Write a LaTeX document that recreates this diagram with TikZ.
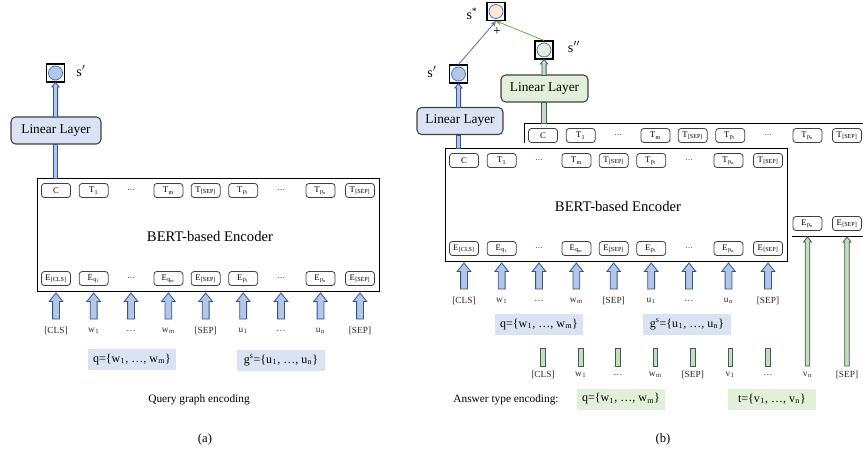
\documentclass[tikz,border=0pt]{standalone}
\usepackage{fontspec}
\setmainfont{Liberation Serif}
\usetikzlibrary{arrows.meta}
\definecolor{lblue}{HTML}{DAE3F3}
\definecolor{mblue}{HTML}{B4C7E7}
\definecolor{dblue}{HTML}{2F5597}
\definecolor{ablue}{HTML}{4472C4}
\definecolor{lgreen}{HTML}{E2F0D9}
\definecolor{mgreen}{HTML}{C5E0B4}
\definecolor{agreen}{HTML}{70AD47}
\definecolor{peach}{HTML}{FBE5D6}
\definecolor{gborder}{HTML}{44546A}
\newcommand\blkarrow[3]{%
  \draw[blk] (#1,#2) -- (#1+6.8,#2+8.5) -- (#1+3.4,#2+8.5) -- (#1+3.4,#3) -- (#1-3.4,#3) -- (#1-3.4,#2+8.5) -- (#1-6.8,#2+8.5) -- cycle;}
\newcommand\narrowup[4]{%
  \draw[#4] (#1,#2) -- (#1+3.6,#2+4.5) -- (#1+2.1,#2+4.5) -- (#1+2.1,#3) -- (#1-2.1,#3) -- (#1-2.1,#2+4.5) -- (#1-3.6,#2+4.5) -- cycle;}
\newcommand\barup[4]{%
  \draw[#4] (#1-2.3,#2) rectangle (#1+2.3,#3);}
\newcommand\sbx[1]{\textsubscript{\kern0.3pt#1}}
\newcommand\bertenc[1]{%
  \node[encbox] (#1box) at (208,234.5) {};
  \node[bigtxt] (#1lbl) at (210,236) {BERT-based Encoder};
  \node[tok] (#1T0) at (56,190.5) {C};
  \node[tok] (#1T1) at (93.7,190.5) {T\sbx{1}};
  \node[tokdots] (#1T2) at (131,190.5) {\dots};
  \node[tok] (#1T3) at (168.4,190.5) {T\sbx{m}};
  \node[tok] (#1T4) at (205.7,190.5) {T\sbx{[SEP]}};
  \node[tok] (#1T5) at (243.2,190.5) {T\sbx{p\textsubscript{1}}};
  \node[tokdots] (#1T6) at (281,190.5) {\dots};
  \node[tok] (#1T7) at (320.5,190.5) {T\sbx{p\textsubscript{n}}};
  \node[tok] (#1T8) at (360,190.5) {T\sbx{[SEP]}};
  \node[tok] (#1E0) at (56,278.5) {E\sbx{[CLS]}};
  \node[tok] (#1E1) at (93.7,278.5) {E\sbx{q\textsubscript{1}}};
  \node[tokdots] (#1E2) at (131,278.5) {\dots};
  \node[tok] (#1E3) at (168.4,278.5) {E\sbx{q\textsubscript{m}}};
  \node[tok] (#1E4) at (205.7,278.5) {E\sbx{[SEP]}};
  \node[tok] (#1E5) at (243.2,278.5) {E\sbx{p\textsubscript{1}}};
  \node[tokdots] (#1E6) at (281,278.5) {\dots};
  \node[tok] (#1E7) at (320.5,278.5) {E\sbx{p\textsubscript{n}}};
  \node[tok] (#1E8) at (360,278.5) {E\sbx{[SEP]}};
}
\newcommand\inputrow[1]{%
  \foreach \xx in {56,93.7,131,168.4,205.7,243.2,281,320.5,360} {\blkarrow{\xx}{293}{319}}
  \node[lab] (#1l0) at (56,331) {[CLS]};
  \node[lab] (#1l1) at (93.7,331) {w\sbx{1}};
  \node[lab] (#1l2) at (131,331) {\dots};
  \node[lab] (#1l3) at (168.4,331) {w\sbx{m}};
  \node[lab] (#1l4) at (205.7,331) {[SEP]};
  \node[lab] (#1l5) at (243.2,331) {u\sbx{1}};
  \node[lab] (#1l6) at (281,331) {\dots};
  \node[lab] (#1l7) at (320.5,331) {u\sbx{n}};
  \node[lab] (#1l8) at (360,331) {[SEP]};
}
\begin{document}
\begin{tikzpicture}[x=0.75pt,y=-0.75pt,
  tok/.style={draw=black!75, rounded corners=2.2pt, fill=white, minimum width=21.75pt, minimum height=10.5pt, inner sep=0pt, line width=0.6pt, font=\fontsize{6.5}{6.5}\selectfont},
  tokdots/.style={inner sep=0pt, font=\fontsize{6}{6}\selectfont},
  encbox/.style={draw=black, line width=0.7pt, fill=white, minimum width=256.5pt, minimum height=84.75pt, inner sep=0pt},
  bigtxt/.style={inner sep=0pt, font=\fontsize{11}{11}\selectfont},
  sq/.style={draw=black, line width=0.8pt, minimum width=13.5pt, minimum height=13.5pt, inner sep=0pt},
  dot/.style={circle, draw=ablue, line width=0.6pt, minimum size=10.5pt, inner sep=0pt},
  llayer/.style={draw=black!75, line width=0.8pt, rounded corners=3.5pt, minimum height=20.25pt, inner sep=0pt, font=\fontsize{10}{10}\selectfont},
  lab/.style={inner sep=0pt, text=black!85, font=\fontsize{7}{7}\selectfont},
  seqbox/.style={minimum width=66pt, minimum height=15.75pt, inner sep=0pt, font=\fontsize{9}{9}\selectfont},
  note/.style={inner sep=0pt, font=\fontsize{8.5}{8.5}\selectfont},
  slabel/.style={inner sep=0pt, font=\fontsize{10.5}{10.5}\selectfont},
  blk/.style={draw=dblue, fill=mblue, line width=0.6pt},
  bbar/.style={draw=dblue, fill=mblue, line width=0.6pt},
  gbar/.style={draw=gborder, fill=mgreen, line width=0.6pt},
  thinb/.style={draw=ablue, line width=0.6pt, -{Stealth[length=4pt,width=3.5pt]}},
  thing/.style={draw=agreen, line width=0.6pt, -{Stealth[length=4pt,width=3.5pt]}}]
\clip (0,0) rectangle (863,456);

% ================= (a) =================
\bertenc{a}
\inputrow{a}
\node[sq] (asq) at (55.5,73) {};
\node[dot, fill=mblue] (adot) at (asq) {};
\node[slabel] (asl) at (81,71) {s$'$};
\node[llayer, fill=lblue, minimum width=67.5pt] (aLL) at (56,130.5) {Linear Layer};
\barup{55.5}{144}{178}{bbar}
\narrowup{55.5}{82.5}{117}{bbar}
\node[seqbox, fill=lblue] (aq) at (132,359.5) {q=\{w\sbx{1}, \dots, w\sbx{m}\}};
\node[seqbox, fill=lblue] (ag) at (281,360.5) {g\textsuperscript{s}=\{u\sbx{1}, \dots, u\sbx{n}\}};
\node[note] (acap) at (199,400) {Query graph encoding};
\node[inner sep=0pt, font=\fontsize{9.5}{9.5}\selectfont] (asub) at (205,439) {(a)};

% ================= (b) =================
% back (answer type) encoder
\begin{scope}[shift={(487,-55)}]
\bertenc{c}
\end{scope}
\fill[white] (440,143) rectangle (792,266);
% front encoder
\begin{scope}[shift={(408,-30)}]
\bertenc{b}
\inputrow{b}
\end{scope}

\node[sq] (bsq) at (458.5,74) {};
\node[dot, fill=mblue] (bdot) at (bsq) {};
\node[slabel] (bsl) at (432,72) {s$'$};
\node[sq] (ssq) at (496,11.5) {};
\node[dot, fill=peach] (sdot) at (ssq) {};
\node[slabel] (ssl) at (472,14) {s\textsuperscript{*}};
\node[sq] (dsq) at (544,50) {};
\node[dot, fill=lgreen] (ddot) at (dsq) {};
\node[slabel] (dsl) at (574,47) {s$''$};
\node[slabel] (plus) at (497,32) {+};

\node[llayer, fill=lblue, minimum width=64.5pt] (bLL) at (460,121) {Linear Layer};
\node[llayer, fill=lgreen, minimum width=65.25pt] (gLL) at (544.5,88.5) {Linear Layer};
\barup{458.5}{135}{148}{bbar}
\narrowup{458.5}{83.5}{107.5}{bbar}
\barup{544}{102}{123}{gbar}
\narrowup{544}{59.5}{75.5}{gbar}
\draw[thinb] (bsq.north) -- (ssq.south);
\draw[thing] (dsq.north) -- (ssq.south);

\node[seqbox, fill=lblue] (bq) at (539,324.5) {q=\{w\sbx{1}, \dots, w\sbx{m}\}};
\node[seqbox, fill=lblue] (bg) at (687,324.5) {g\textsuperscript{s}=\{u\sbx{1}, \dots, u\sbx{n}\}};

% answer type inputs
\foreach \xx in {543,580.7,618,655.4,692.7,730.2,768} {\barup{\xx}{348}{366}{gbar}}
\draw[gbar] (807.5,237) -- (811.5,242) -- (809.8,242) -- (809.8,366) -- (805.2,366) -- (805.2,242) -- (803.5,242) -- cycle;
\draw[gbar] (847,237) -- (851,242) -- (849.3,242) -- (849.3,366) -- (844.7,366) -- (844.7,242) -- (843,242) -- cycle;
\node[lab] (tl0) at (543,375) {[CLS]};
\node[lab] (tl1) at (580.7,375) {w\sbx{1}};
\node[lab] (tl2) at (618,375) {\dots};
\node[lab] (tl3) at (655.4,375) {w\sbx{m}};
\node[lab] (tl4) at (692.7,375) {[SEP]};
\node[lab] (tl5) at (730.2,375) {v\sbx{1}};
\node[lab] (tl6) at (768,375) {\dots};
\node[lab] (tl7) at (807.5,375) {v\sbx{n}};
\node[lab] (tl8) at (847,375) {[SEP]};
\node[note] (bcap) at (506,400) {Answer type encoding:};
\node[seqbox, fill=lgreen] (tq) at (621,399) {q=\{w\sbx{1}, \dots, w\sbx{m}\}};
\node[seqbox, fill=lgreen] (tt) at (772,399) {t=\{v\sbx{1}, \dots, v\sbx{n}\}};
\node[inner sep=0pt, font=\fontsize{9.5}{9.5}\selectfont] (bsub) at (663,439) {(b)};
\end{tikzpicture}
\end{document}
